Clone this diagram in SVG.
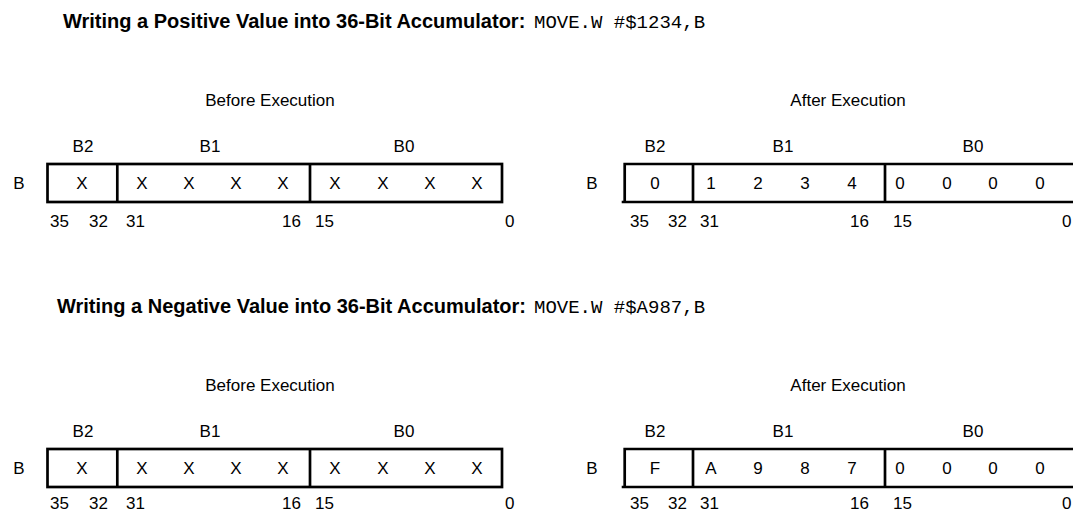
<svg xmlns="http://www.w3.org/2000/svg" width="1073" height="513" viewBox="0 0 1073 513">
<style>
text{font-family:"Liberation Sans",Arial,sans-serif;font-size:17px;fill:#000}
.t{font-weight:bold;font-size:20px}
.m{font-family:"Liberation Mono","Courier New",monospace;font-size:19px}
.c{text-anchor:middle}
.e{text-anchor:end}
.box{fill:none;stroke:#000;stroke-width:2.7}
</style>
<rect width="1073" height="513" fill="#fff"/>

<g id="section-positive">
  <g id="title1">
    <text class="t" x="63" y="28">Writing a Positive Value into 36-Bit Accumulator:</text>
    <text class="m" x="534" y="28">MOVE.W #$1234,B</text>
  </g>
  <g id="before1">
    <text class="c" x="270" y="106">Before Execution</text>
    <text class="c" x="83" y="152">B2</text>
    <text class="c" x="210" y="152">B1</text>
    <text class="c" x="404" y="152">B0</text>
    <text class="c" x="19" y="189">B</text>
    <rect class="box" x="47.5" y="164" width="454.5" height="38"/>
    <line class="box" x1="117.3" y1="164" x2="117.3" y2="202"/>
    <line class="box" x1="310" y1="164" x2="310" y2="202"/>
    <text class="c" x="82" y="189">X</text>
    <text class="c" x="142" y="189">X</text>
    <text class="c" x="189" y="189">X</text>
    <text class="c" x="236" y="189">X</text>
    <text class="c" x="283" y="189">X</text>
    <text class="c" x="335" y="189">X</text>
    <text class="c" x="383" y="189">X</text>
    <text class="c" x="430" y="189">X</text>
    <text class="c" x="477" y="189">X</text>
    <text x="50" y="227">35</text>
    <text class="e" x="108" y="227">32</text>
    <text x="126" y="227">31</text>
    <text class="e" x="301" y="227">16</text>
    <text x="315" y="227">15</text>
    <text x="505" y="227">0</text>
  </g>
  <g id="after1">
    <text class="c" x="848" y="106">After Execution</text>
    <text class="c" x="655" y="152">B2</text>
    <text class="c" x="783" y="152">B1</text>
    <text class="c" x="973" y="152">B0</text>
    <text class="c" x="592" y="189">B</text>
    <path class="box" d="M1090,164 H624.7 V202 M621.7,202 H1090"/>
    <line class="box" x1="693" y1="164" x2="693" y2="202"/>
    <line class="box" x1="885" y1="164" x2="885" y2="202"/>
    <text class="c" x="655" y="189">0</text>
    <text class="c" x="711" y="189">1</text>
    <text class="c" x="758" y="189">2</text>
    <text class="c" x="805" y="189">3</text>
    <text class="c" x="852" y="189">4</text>
    <text class="c" x="900" y="189">0</text>
    <text class="c" x="947" y="189">0</text>
    <text class="c" x="993" y="189">0</text>
    <text class="c" x="1040" y="189">0</text>
    <text x="630" y="227">35</text>
    <text class="e" x="687" y="227">32</text>
    <text x="700" y="227">31</text>
    <text class="e" x="869" y="227">16</text>
    <text x="893" y="227">15</text>
    <text x="1062" y="227">0</text>
  </g>
</g>

<g id="section-negative" transform="translate(0,285)">
  <g id="title2">
    <text class="t" x="57" y="28">Writing a Negative Value into 36-Bit Accumulator:</text>
    <text class="m" x="534" y="28">MOVE.W #$A987,B</text>
  </g>
  <g id="before2">
    <text class="c" x="270" y="106">Before Execution</text>
    <text class="c" x="83" y="152">B2</text>
    <text class="c" x="210" y="152">B1</text>
    <text class="c" x="404" y="152">B0</text>
    <text class="c" x="19" y="189">B</text>
    <rect class="box" x="47.5" y="164" width="454.5" height="38"/>
    <line class="box" x1="117.3" y1="164" x2="117.3" y2="202"/>
    <line class="box" x1="310" y1="164" x2="310" y2="202"/>
    <text class="c" x="82" y="189">X</text>
    <text class="c" x="142" y="189">X</text>
    <text class="c" x="189" y="189">X</text>
    <text class="c" x="236" y="189">X</text>
    <text class="c" x="283" y="189">X</text>
    <text class="c" x="335" y="189">X</text>
    <text class="c" x="383" y="189">X</text>
    <text class="c" x="430" y="189">X</text>
    <text class="c" x="477" y="189">X</text>
    <text x="50" y="224">35</text>
    <text class="e" x="108" y="224">32</text>
    <text x="126" y="224">31</text>
    <text class="e" x="301" y="224">16</text>
    <text x="315" y="224">15</text>
    <text x="505" y="224">0</text>
  </g>
  <g id="after2">
    <text class="c" x="848" y="106">After Execution</text>
    <text class="c" x="655" y="152">B2</text>
    <text class="c" x="783" y="152">B1</text>
    <text class="c" x="973" y="152">B0</text>
    <text class="c" x="592" y="189">B</text>
    <path class="box" d="M1090,164 H624.7 V202 M621.7,202 H1090"/>
    <line class="box" x1="693" y1="164" x2="693" y2="202"/>
    <line class="box" x1="885" y1="164" x2="885" y2="202"/>
    <text class="c" x="655" y="189">F</text>
    <text class="c" x="711" y="189">A</text>
    <text class="c" x="758" y="189">9</text>
    <text class="c" x="805" y="189">8</text>
    <text class="c" x="852" y="189">7</text>
    <text class="c" x="900" y="189">0</text>
    <text class="c" x="947" y="189">0</text>
    <text class="c" x="993" y="189">0</text>
    <text class="c" x="1040" y="189">0</text>
    <text x="630" y="224">35</text>
    <text class="e" x="687" y="224">32</text>
    <text x="700" y="224">31</text>
    <text class="e" x="869" y="224">16</text>
    <text x="893" y="224">15</text>
    <text x="1062" y="224">0</text>
  </g>
</g>
</svg>
